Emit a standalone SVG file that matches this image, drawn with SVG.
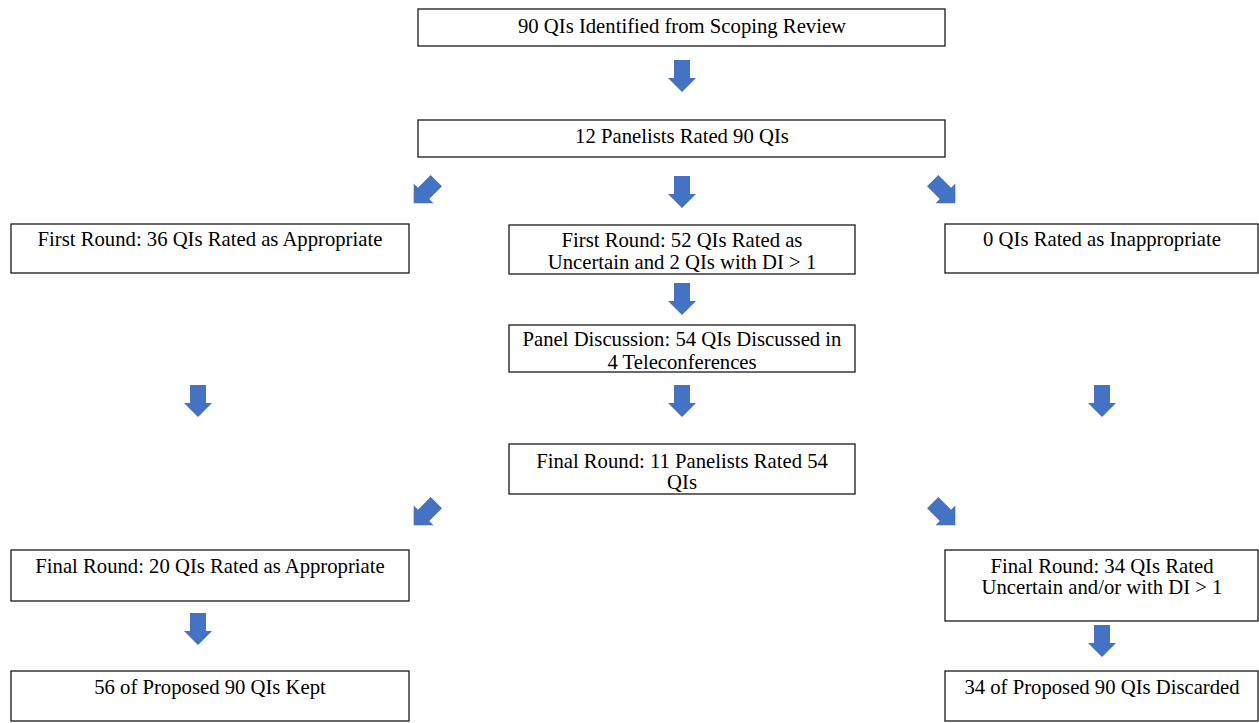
<svg xmlns="http://www.w3.org/2000/svg" xmlns:xlink="http://www.w3.org/1999/xlink" width="1259" height="723" viewBox="0 0 1259 723">
<style>
.box{fill:#fff;stroke:#1a1a1a;stroke-width:1.3}
.t{font-family:"Liberation Serif","DejaVu Serif",serif;font-size:20.7px;fill:#000;text-anchor:middle}
.arr{fill:#4472C4}
</style>
<defs>
<path id="a" d="M-8,-16 H8 V2 H14 L0,16 L-14,2 H-8 Z"/>
</defs>
<rect width="1259" height="723" fill="#fff"/>
<g id="connectors" class="arr">
<use xlink:href="#a" transform="translate(682,76)"/>
<use xlink:href="#a" transform="translate(425,192) rotate(45)"/>
<use xlink:href="#a" transform="translate(682,192)"/>
<use xlink:href="#a" transform="translate(944,192) rotate(-45)"/>
<use xlink:href="#a" transform="translate(682,299)"/>
<use xlink:href="#a" transform="translate(198,401)"/>
<use xlink:href="#a" transform="translate(682,401)"/>
<use xlink:href="#a" transform="translate(1102,401)"/>
<use xlink:href="#a" transform="translate(425,514) rotate(45)"/>
<use xlink:href="#a" transform="translate(944,514) rotate(-45)"/>
<use xlink:href="#a" transform="translate(198,629)"/>
<use xlink:href="#a" transform="translate(1102,641)"/>
</g>
<g id="n1"><rect class="box" x="418" y="9" width="527" height="37"/><text class="t" x="682" y="33">90 QIs Identified from Scoping Review</text></g>
<g id="n2"><rect class="box" x="418" y="120" width="527" height="37"/><text class="t" x="682" y="143">12 Panelists Rated 90 QIs</text></g>
<g id="n3"><rect class="box" x="11" y="224" width="398" height="49"/><text class="t" x="210" y="246">First Round: 36 QIs Rated as Appropriate</text></g>
<g id="n4"><rect class="box" x="509" y="225" width="346" height="49"/><text class="t" x="682" y="247">First Round: 52 QIs Rated as</text><text class="t" x="682" y="269">Uncertain and 2 QIs with DI &gt; 1</text></g>
<g id="n5"><rect class="box" x="945" y="224" width="313" height="49"/><text class="t" x="1102" y="246">0 QIs Rated as Inappropriate</text></g>
<g id="n6"><rect class="box" x="509" y="325" width="346" height="47"/><text class="t" x="682" y="346">Panel Discussion: 54 QIs Discussed in</text><text class="t" x="682" y="369">4 Teleconferences</text></g>
<g id="n7"><rect class="box" x="509" y="444" width="346" height="50"/><text class="t" x="682" y="468">Final Round: 11 Panelists Rated 54</text><text class="t" x="682" y="489">QIs</text></g>
<g id="n8"><rect class="box" x="11" y="550" width="398" height="51"/><text class="t" x="210" y="573">Final Round: 20 QIs Rated as Appropriate</text></g>
<g id="n9"><rect class="box" x="945" y="550" width="313" height="71"/><text class="t" x="1102" y="573">Final Round: 34 QIs Rated</text><text class="t" x="1102" y="594">Uncertain and/or with DI &gt; 1</text></g>
<g id="n10"><rect class="box" x="11" y="671" width="398" height="50"/><text class="t" x="210" y="694">56 of Proposed 90 QIs Kept</text></g>
<g id="n11"><rect class="box" x="945" y="671" width="313" height="50"/><text class="t" x="1102" y="694">34 of Proposed 90 QIs Discarded</text></g>
</svg>
